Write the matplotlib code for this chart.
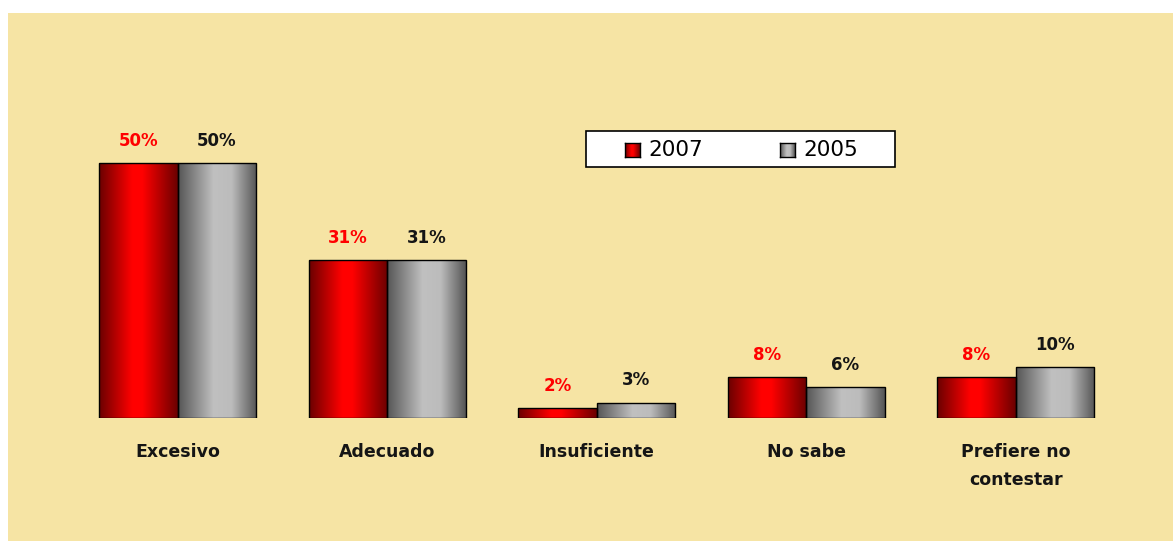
import numpy as np
import matplotlib.pyplot as plt
from matplotlib.patches import Rectangle
from matplotlib.colors import LinearSegmentedColormap

# Data
categories = ["Excesivo", "Adecuado", "Insuficiente", "No sabe", "Prefiere no\ncontestar"]
vals_2007 = [50, 31, 2, 8, 8]
vals_2005 = [50, 31, 3, 6, 10]
series = ["2007", "2005"]

# Figure size in pixels
W, H = 1173, 541
dpi = 100

def fx(px):
    return px / W

def fy(py):
    return 1 - py / H

# Bar shading
red_cmap = LinearSegmentedColormap.from_list(
    "redbar", [(0, "#6a0000"), (0.42, "#ff0000"), (0.55, "#ff0000"), (1, "#6a0000")])
gray_cmap = LinearSegmentedColormap.from_list(
    "graybar", [(0, "#555555"), (0.45, "#c0c0c0"), (0.68, "#bcbcbc"), (1, "#555555")])
grad = np.linspace(0, 1, 256).reshape(1, -1)

fig = plt.figure(figsize=(W / dpi, H / dpi), dpi=dpi)
fig.patch.set_facecolor("white")

# Parchment background
fig.patches.append(Rectangle((fx(8), 0), 1 - fx(8), fy(13), transform=fig.transFigure,
                             facecolor="#f6e4a4", edgecolor="none", zorder=-5))

# Main axes: baseline at y=418px, 5.1 px per percent
ymax = 55
top_px = 418 - ymax * 5.1
ax = fig.add_axes([fx(73), fy(418), fx(1120.5) - fx(73), (418 - top_px) / H], zorder=1)
ax.set_facecolor("none")
for s in ax.spines.values():
    s.set_visible(False)

x = np.arange(len(categories))
w = 78.5 / 209.5

bars_a = ax.bar(x - w / 2, vals_2007, w, facecolor="none", edgecolor="black", lw=1, zorder=3)
bars_b = ax.bar(x + w / 2, vals_2005, w, facecolor="none", edgecolor="black", lw=1, zorder=3)

for bars, cmap in [(bars_a, red_cmap), (bars_b, gray_cmap)]:
    for b in bars:
        x0, y0 = b.get_x(), b.get_y()
        im = ax.imshow(grad, cmap=cmap, aspect="auto", interpolation="bilinear",
                       extent=(x0, x0 + b.get_width(), y0, y0 + b.get_height()), zorder=2)
        im.set_clip_path(b)

ax.set_xlim(-0.5, len(categories) - 0.5)
ax.set_ylim(0, ymax)

# Value labels
for bars, vals, col in [(bars_a, vals_2007, "#ff0000"), (bars_b, vals_2005, "#151515")]:
    for b, v in zip(bars, vals):
        ax.annotate(f"{v}%", (b.get_x() + b.get_width() / 2, b.get_height()),
                    xytext=(0, 16), textcoords="offset points", ha="center", va="center",
                    fontsize=12, fontweight="bold", color=col)

ax.set_yticks([])
ax.set_xticks(x, categories, fontsize=12.5, fontweight="bold", color="#151515", linespacing=1.7)
ax.tick_params(axis="x", length=0, pad=18)

# Legend box
fig.patches.append(Rectangle((fx(586), fy(167)), fx(895) - fx(586), (167 - 131) / H,
                             transform=fig.transFigure, facecolor="white", edgecolor="black",
                             lw=1.2, zorder=5))
for sq_x, txt_x, cmap, label in [(625, 648, red_cmap, series[0]), (780, 803, gray_cmap, series[1])]:
    lax = fig.add_axes([fx(sq_x), fy(157), fx(15), 14 / H], zorder=6)
    lax.imshow(grad, cmap=cmap, aspect="auto", interpolation="bilinear")
    lax.set_xticks([])
    lax.set_yticks([])
    for s in lax.spines.values():
        s.set_linewidth(1)
    fig.text(fx(txt_x), fy(150), label, fontsize=15.5, color="black",
             ha="left", va="center", zorder=7)

fig.savefig("out.png", dpi=dpi)
